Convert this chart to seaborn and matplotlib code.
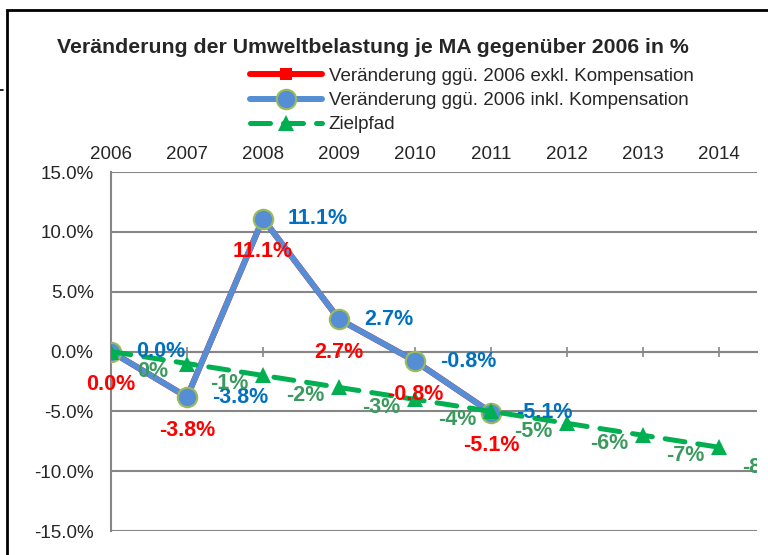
import numpy as np
import pandas as pd
import matplotlib
matplotlib.use("Agg")
import matplotlib.pyplot as plt
from matplotlib.patches import Rectangle
from matplotlib.lines import Line2D
import seaborn as sns

# Daten (in %)
jahre = [2006, 2007, 2008, 2009, 2010, 2011]
exkl = [0.0, -3.8, 11.1, 2.7, -0.8, -5.1]
inkl = [0.0, -3.8, 11.1, 2.7, -0.8, -5.1]
jahre_ziel = [2006, 2007, 2008, 2009, 2010, 2011, 2012, 2013, 2014]
zielpfad = [0, -1, -2, -3, -4, -5, -6, -7, -8]

df = pd.DataFrame({"Jahr": jahre, "exkl": exkl, "inkl": inkl})
df_ziel = pd.DataFrame({"Jahr": jahre_ziel, "Ziel": zielpfad})

sns.set_style("white")
plt.rcParams["font.family"] = ["Liberation Sans", "DejaVu Sans"]

ROT = "#FF0000"
BLAU = "#558ED5"
BLAU_TXT = "#0070C0"
OLIV = "#9BBB59"
GRUEN = "#00B050"
GRUEN_TXT = "#3A9A5E"
GRAU = "#868686"

fig = plt.figure(figsize=(7.68, 5.55), dpi=100)
ax = fig.add_axes([0.1445, 0.0432, 0.8413, 0.6468])

sns.lineplot(data=df, x="Jahr", y="exkl", ax=ax, color=ROT, lw=4.3,
             marker="s", markersize=9, markeredgewidth=0,
             label="Veränderung ggü. 2006 exkl. Kompensation", zorder=3)
sns.lineplot(data=df, x="Jahr", y="inkl", ax=ax, color=BLAU, lw=4.3,
             marker="o", markersize=14, markerfacecolor=BLAU,
             markeredgecolor=OLIV, markeredgewidth=1.5,
             label="Veränderung ggü. 2006 inkl. Kompensation", zorder=4)
sns.lineplot(data=df_ziel, x="Jahr", y="Ziel", ax=ax, color=GRUEN, lw=3.6,
             linestyle=(0, (4, 2.6)), marker="^", markersize=12,
             markeredgewidth=0, label="Zielpfad", zorder=5)
ax.lines[-1].set_dash_capstyle("round")

# Datenbeschriftungen
for x, y in zip(jahre, exkl):
    ax.annotate(f"{y:.1f}%", (x, y), xytext=(0, -33), textcoords="offset pixels",
                ha="center", va="center", color=ROT, fontsize=15.5,
                fontweight="bold", zorder=6)
for x, y in zip(jahre, inkl):
    ax.annotate(f"{y:.1f}%", (x, y), xytext=(25, 0), textcoords="offset pixels",
                ha="left", va="center", color=BLAU_TXT, fontsize=15.5,
                fontweight="bold", zorder=6)
for x, y in zip(jahre_ziel, zielpfad):
    ax.annotate(f"{y}%", (x, y), xytext=(42, -20), textcoords="offset pixels",
                ha="center", va="center", color=GRUEN_TXT, fontsize=15.5,
                fontweight="bold", zorder=6, annotation_clip=False,
                clip_on=True)

ax.set_xlim(2006, 2014.5)
ax.set_ylim(-15, 15)
ax.set_yticks(np.arange(-15, 16, 5))
ax.yaxis.set_major_formatter(plt.FuncFormatter(lambda v, p: f"{v:.1f}%"))
ax.set_xticks(jahre_ziel)
ax.set_xticklabels([str(j) for j in jahre_ziel])
ax.set_xlabel("")
ax.set_ylabel("")

ax.grid(axis="y", color=GRAU, lw=1.5)
ax.grid(axis="x", visible=False)
ax.set_axisbelow(True)
ax.spines["top"].set_visible(False)
ax.spines["right"].set_visible(False)
ax.spines["left"].set_color(GRAU)
ax.spines["left"].set_linewidth(1.5)
ax.spines["bottom"].set_position(("data", 0))
ax.spines["bottom"].set_color(GRAU)
ax.spines["bottom"].set_linewidth(1.5)

ax.tick_params(axis="x", bottom=True, top=False, labelbottom=False, labeltop=True,
               direction="inout", length=7.5, width=1.2, color=GRAU,
               labelsize=13.5, pad=2.5)
ax.tick_params(axis="y", left=False, labelsize=13.5, pad=9)

fig.suptitle("Veränderung der Umweltbelastung je MA gegenüber 2006 in %",
             x=0.485, y=0.915, fontsize=15.3, fontweight="bold", va="center")

handles, labels = ax.get_legend_handles_labels()
ax.legend(handles, labels, loc="upper left", bbox_to_anchor=(0.3255, 0.878),
          bbox_transform=fig.transFigure, frameon=False, fontsize=13.5,
          handlelength=3.85, handletextpad=0.35, labelspacing=0.38,
          borderpad=0, borderaxespad=0)

# Rahmen des Diagramms
fig.patches.append(Rectangle((0.009, -0.1), 1.5, 0.1 + 0.982, fill=False,
                             lw=2, edgecolor="black", transform=fig.transFigure))
fig.lines.append(Line2D([0.0, 0.004], [0.838, 0.838], color="black", lw=1.2,
                        transform=fig.transFigure))

fig.savefig("out.png", dpi=100)
